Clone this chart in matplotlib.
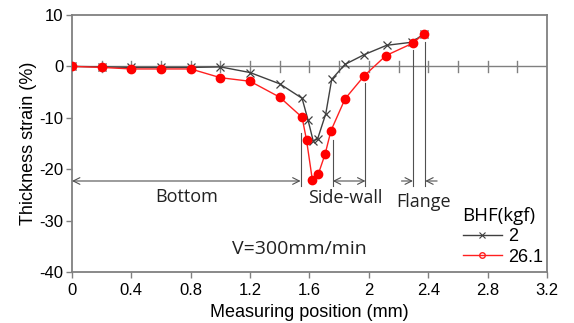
import matplotlib
matplotlib.use('Agg')
import matplotlib.pyplot as plt
from matplotlib.lines import Line2D
import numpy as np

plt.rcParams['font.family'] = ['Liberation Sans', 'DejaVu Sans']
plt.rcParams['axes.unicode_minus'] = False

# data
x_2 = [0, 0.2, 0.4, 0.6, 0.8, 1.0, 1.2, 1.4, 1.55, 1.59, 1.625, 1.655, 1.71, 1.75, 1.84, 1.97, 2.12, 2.29, 2.37]
y_2 = [0, -0.1, -0.2, -0.2, -0.2, -0.1, -1.2, -3.4, -6.2, -10.4, -14.5, -14.1, -9.2, -2.5, 0.4, 2.3, 4.1, 4.7, 6.3]
x_26 = [0, 0.2, 0.4, 0.6, 0.8, 1.0, 1.2, 1.4, 1.55, 1.58, 1.62, 1.66, 1.705, 1.745, 1.84, 1.97, 2.115, 2.295, 2.37]
y_26 = [0, -0.2, -0.5, -0.5, -0.5, -2.2, -2.9, -6.0, -9.9, -14.3, -22.2, -20.9, -17.1, -12.5, -6.3, -1.8, 2.1, 4.5, 6.3]

xticks = [0, 0.4, 0.8, 1.2, 1.6, 2.0, 2.4, 2.8, 3.2]
xtick_labels = ['0', '0.4', '0.8', '1.2', '1.6', '2', '2.4', '2.8', '3.2']
yticks = [10, 0, -10, -20, -30, -40]

# region boundaries (mm) and where the vertical guide lines start
bounds = [1.54, 1.757, 1.977, 2.297, 2.38]
bound_tops = [-13.0, -14.4, -3.3, 3.1, 4.7]
arrow_y = -22.3
line_bottom = -23.2

lab_font = ['Open Sans', 'DejaVu Sans']
gray = '#808080'

fig = plt.figure(figsize=(5.74, 3.23), dpi=100)
ax = fig.add_axes([0.1254, 0.158, 0.8275, 0.7956])

# zero line with small crossing ticks
ax.axhline(0, color=gray, lw=1.0, zorder=1)
for xt in np.arange(0.2, 3.2, 0.2):
    ax.plot([xt, xt], [-1.0, 1.0], color=gray, lw=1.0, zorder=1)

ax.plot(x_2, y_2, color='#404040', lw=1.0, marker='x', ms=6, mew=0.9, zorder=3)
ax.plot(x_26, y_26, color='#ff2020', lw=1.0, marker='o', ms=6, mfc='red', mec='red', zorder=4)

# guide lines
for b, t in zip(bounds, bound_tops):
    ax.plot([b, b], [t, line_bottom], color='#505050', lw=0.8, zorder=2)

ap = dict(arrowstyle='<->', color='#505050', lw=0.8, shrinkA=0, shrinkB=0,
          mutation_scale=12)
ax.annotate('', xy=(0, arrow_y), xytext=(bounds[0], arrow_y), arrowprops=ap)
ax.annotate('', xy=(bounds[1], arrow_y), xytext=(bounds[2], arrow_y), arrowprops=ap)
ap1 = dict(arrowstyle='->', color='#505050', lw=0.8, shrinkA=0, shrinkB=0,
           mutation_scale=12)
ax.annotate('', xy=(bounds[3], arrow_y), xytext=(2.22, arrow_y), arrowprops=ap1)
ax.annotate('', xy=(bounds[4], arrow_y), xytext=(2.46, arrow_y), arrowprops=ap1)

tc = '#222222'
ax.text(0.77, -25.4, 'Bottom', ha='center', va='center', fontsize=13,
        family=lab_font, color=tc)
ax.text(1.84, -25.6, 'Side-wall', ha='center', va='center', fontsize=13,
        family=lab_font, color=tc)
ax.text(2.37, -26.3, 'Flange', ha='center', va='center', fontsize=13,
        family=lab_font, color=tc)
ax.text(1.08, -35.6, 'V=300mm/min', ha='left', va='center', fontsize=14,
        family=lab_font, color=tc)

handles = [Line2D([], [], color='#404040', lw=1.0, marker='x', ms=4, mew=0.8),
           Line2D([], [], color='#ff2020', lw=1.0, marker='o', ms=4, mfc='none', mec='#ff2020')]
leg = ax.legend(handles, ['2', '26.1'], title='BHF(kgf)', loc='lower right',
                bbox_to_anchor=(1.01, -0.01), frameon=False, fontsize=13,
                handlelength=2.2, handletextpad=0.3, labelspacing=0.2,
                borderaxespad=0.1)
leg.get_title().set_fontfamily(lab_font)
leg.get_title().set_fontsize(13.5)
leg._legend_box.align = 'left'
leg._legend_box.sep = 2

ax.set_xlim(0, 3.2)
ax.set_ylim(-40, 10)
ax.set_xticks(xticks)
ax.set_xticklabels(xtick_labels)
ax.set_yticks(yticks)
ax.tick_params(axis='both', labelsize=12, color=gray, length=4, width=1.0)
ax.tick_params(axis='x', pad=4)
ax.tick_params(axis='y', pad=2)

for s in ax.spines.values():
    s.set_color(gray)
    s.set_linewidth(1.3)

ax.set_xlabel('Measuring position (mm)', fontsize=13, labelpad=4)
ax.set_ylabel('Thickness strain (%)', fontsize=13, labelpad=2)

fig.savefig('out.png', dpi=100)
